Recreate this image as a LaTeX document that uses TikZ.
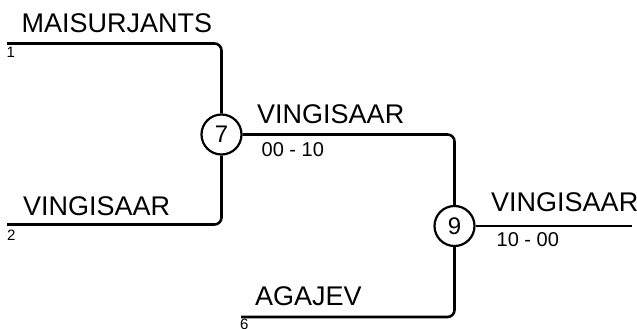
\documentclass[tikz,border=0pt]{standalone}
\usepackage{fontspec}
\setmainfont{Liberation Sans}

\begin{document}
\begin{tikzpicture}[x=1pt, y=-1pt,
    roundnode/.style={circle, draw=black, line width=2.2pt, fill=white, minimum size=40pt, inner sep=0pt, font=\fontsize{24}{24}\selectfont},
    teamname/.style={anchor=base west, inner sep=0pt, font=\fontsize{27}{27}\selectfont},
    scoretext/.style={anchor=base west, inner sep=0pt, font=\fontsize{20}{20}\selectfont},
    seedtext/.style={anchor=base west, inner sep=0pt, font=\fontsize{15}{15}\selectfont},
    bracketline/.style={line width=2.6pt, rounded corners=7pt},
    ]
    \useasboundingbox (0,0) rectangle (637,329);

    %Nodes
    \node[roundnode]      (game7)      at (221.5,134.5) {7};
    \node[roundnode]      (game9)      at (454.5,226)   {9};
    \coordinate           (seed1)      at (7,43.5);
    \coordinate           (seed2)      at (7,224.5);
    \coordinate           (seed6)      at (241,317);
    \coordinate           (winner)     at (632,226);

    %Labels
    \node[teamname]       (team1)      at (21.5,33)   {MAISURJANTS};
    \node[seedtext]       (num1)       at (6.5,58)    {1};
    \node[teamname]       (team2)      at (23,215)    {VINGISAAR};
    \node[seedtext]       (num2)       at (7,240)     {2};
    \node[teamname]       (team7)      at (257,123)   {VINGISAAR};
    \node[scoretext]      (score7)     at (261.5,156) {00 - 10};
    \node[teamname]       (team6)      at (255,305)   {AGAJEV};
    \node[seedtext]       (num6)       at (240,329)   {6};
    \node[teamname]       (team9)      at (491,211)   {VINGISAAR};
    \node[scoretext]      (score9)     at (496.5,246) {10 - 00};

    %Lines
    \draw[bracketline] (seed1) -| (game7.north);
    \draw[bracketline] (seed2) -| (game7.south);
    \draw[bracketline] (game7.east) -| (game9.north);
    \draw[bracketline] (seed6) -| (game9.south);
    \draw[bracketline] (game9.east) -- (winner);
  \end{tikzpicture}
\end{document}
